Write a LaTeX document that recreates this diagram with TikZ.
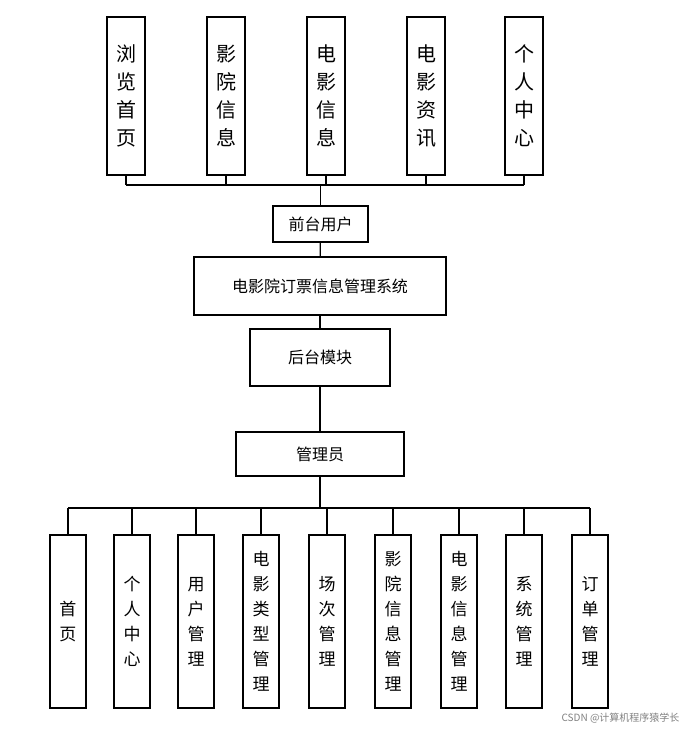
\documentclass[tikz,border=0pt]{standalone}
\usepackage{fontspec}
\setmainfont{Noto Sans CJK SC}
\begin{document}
\begin{tikzpicture}[x=1pt,y=-1pt,
  bx/.style={draw,line width=1.2pt,inner sep=0pt},
  ln/.style={line width=1.2pt},
  top/.style={bx,minimum width=38pt,minimum height=158pt,align=center,font=\fontsize{20}{28}\selectfont},
  bot/.style={bx,minimum width=36pt,minimum height=173pt,align=center,font=\fontsize{17}{25}\selectfont},
  mid/.style={bx,font=\fontsize{16}{20}\selectfont}]
\useasboundingbox (0,0) rectangle (687,732);
\foreach \n/\x/\t in {t1/126/浏\\览\\首\\页, t2/226/影\\院\\信\\息, t3/326/电\\影\\信\\息, t4/426/电\\影\\资\\讯, t5/524/个\\人\\中\\心}
  \node[top] (\n) at (\x,96) {\t};
\node[mid,minimum width=95pt,minimum height=36pt] (qt) at (320.5,224) {前台用户};
\node[mid,minimum width=252pt,minimum height=58pt] (sys) at (320,286) {电影院订票信息管理系统};
\node[mid,minimum width=140pt,minimum height=57pt] (ht) at (320,357.5) {后台模块};
\node[mid,minimum width=168pt,minimum height=44pt] (adm) at (320,454) {管理员};
\foreach \n/\x/\t in {b1/68/首\\页, b2/132/个\\人\\中\\心, b3/196/用\\户\\管\\理, b4/261/电\\影\\类\\型\\管\\理, b5/327/场\\次\\管\\理, b6/393/影\\院\\信\\息\\管\\理, b7/459/电\\影\\信\\息\\管\\理, b8/524/系\\统\\管\\理, b9/590/订\\单\\管\\理}
  \node[bot] (\n) at (\x,621.5) {\t};
\coordinate (hy) at (0,185);
\foreach \n in {t1,t2,t3,t4,t5} \draw[ln] (\n.south) -- (\n.south |- hy);
\draw[ln] (t1.south |- hy) -- (t5.south |- hy);
\draw[ln] (qt.north |- hy) -- (qt.north);
\draw[ln] (qt) -- (sys);
\draw[ln] (sys) -- (ht);
\draw[ln] (ht) -- (adm);
\coordinate (by) at (0,508);
\draw[ln] (adm.south) -- (adm.south |- by);
\draw[ln] (b1.north |- by) -- (b9.north |- by);
\foreach \n in {b1,b2,b3,b4,b5,b6,b7,b8,b9} \draw[ln] (\n.north |- by) -- (\n.north);
\node[text=gray,font=\fontsize{10}{12}\selectfont,anchor=east] (wm) at (683,718) {CSDN @计算机程序猿学长};
\end{tikzpicture}
\end{document}
